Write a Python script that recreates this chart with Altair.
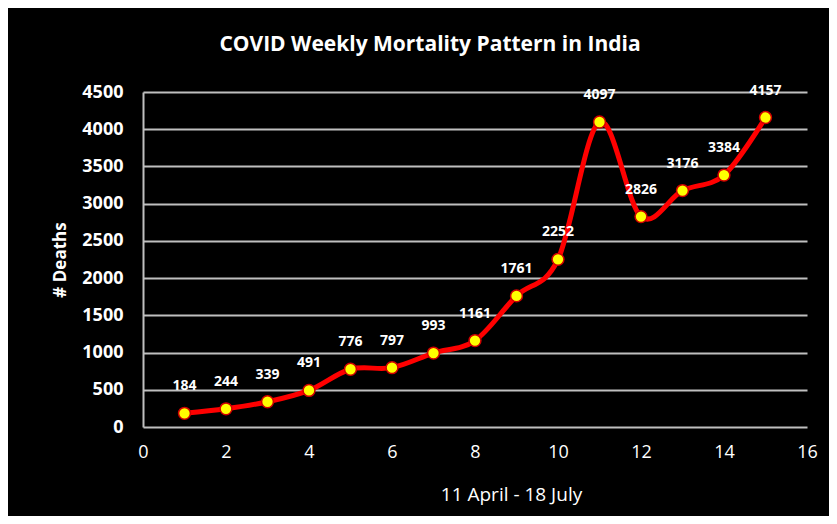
import altair as alt
import pandas as pd

weeks = list(range(1, 16))
deaths = [184, 244, 339, 491, 776, 797, 993, 1161, 1761, 2252, 4097, 2826, 3176, 3384, 4157]
x_ticks = [0, 2, 4, 6, 8, 10, 12, 14, 16]
y_ticks = [0, 500, 1000, 1500, 2000, 2500, 3000, 3500, 4000, 4500]

df = pd.DataFrame({"week": weeks, "deaths": deaths})

FONT = "Open Sans"
GRID = "#bfbfbf"

x_enc = alt.X(
    "week:Q",
    scale=alt.Scale(domain=[0, 16], nice=False),
    axis=alt.Axis(
        values=x_ticks, format="d", title="11 April - 18 July", grid=False, domain=False,
        ticks=False, labelFlush=False, labelColor="white", labelFont=FONT,
        labelFontSize=18, labelFontWeight="normal", labelPadding=16, titleColor="white",
        titleFont=FONT, titleFontSize=19, titleFontWeight="normal", titleX=368, titleY=67,
        titleBaseline="middle", titleAnchor="start", titleAlign="center",
    ),
)
y_enc = alt.Y(
    "deaths:Q",
    scale=alt.Scale(domain=[0, 4500], nice=False),
    axis=alt.Axis(
        values=y_ticks, format="d", title="# Deaths", grid=True, gridColor=GRID,
        gridWidth=2, gridOpacity=1, domain=True, domainColor=GRID, domainWidth=2,
        ticks=False, labelFlush=False, labelColor="white", labelFont=FONT,
        labelFontSize=18, labelFontWeight="bold", labelPadding=20, titleColor="white",
        titleFont=FONT, titleFontSize=17, titleFontWeight="bold", titleX=-83,
        titleY=167.5, titleBaseline="middle", titleAlign="center", titleAngle=270,
    ),
)

base = alt.Chart(df).encode(x=x_enc, y=y_enc)

line = base.mark_line(color="red", strokeWidth=5, interpolate="cardinal")
points = base.mark_point(
    filled=True, shape="circle", size=140, fill="yellow", stroke="#d00000",
    strokeWidth=1.5, opacity=1,
)
labels = base.mark_text(
    dy=-27, color="white", font=FONT, fontSize=14, fontWeight="bold"
).encode(text="deaths:Q")

chart = alt.layer(line, points, labels).properties(
    width=664,
    height=335,
    autosize=alt.AutoSizeParams(type="none"),
    padding={"left": 135, "top": 84, "right": 22, "bottom": 89},
    background="black",
    title=alt.TitleParams(
        "COVID Weekly Mortality Pattern in India", color="white", font=FONT,
        fontSize=21, fontWeight="bold", anchor="middle", dx=-45, offset=28,
    ),
).configure_view(stroke=None)

chart.save("out.html", embed_options={"renderer": "svg", "actions": False})
